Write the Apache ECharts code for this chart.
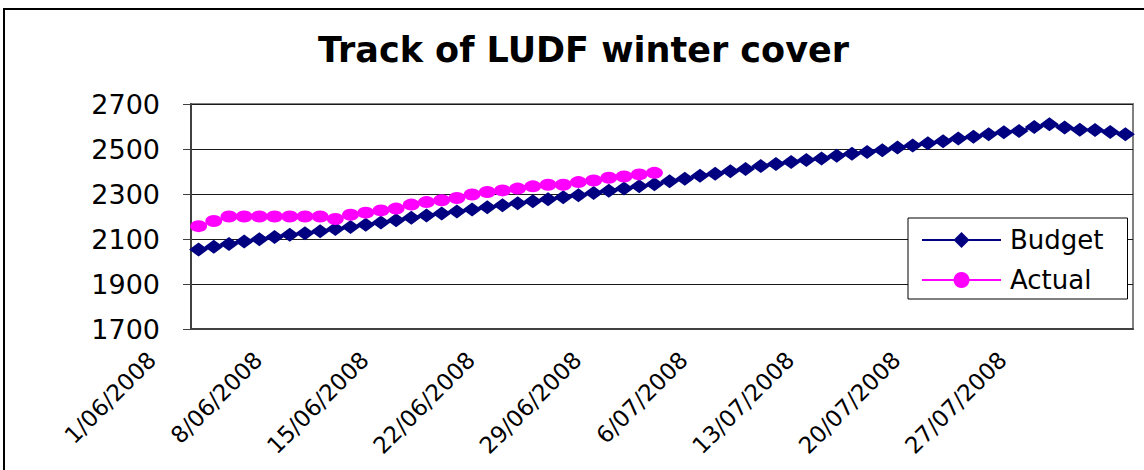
<!DOCTYPE html>
<html>
<head>
<meta charset="utf-8">
<title>Track of LUDF winter cover</title>
<script src="https://cdn.jsdelivr.net/npm/echarts@6/dist/echarts.min.js"></script>
<style>
  html, body { margin: 0; padding: 0; background: #fff; }
  #chart { width: 1144px; height: 470px; }
</style>
</head>
<body>
<div id="chart"></div>
<script>
// days on the x axis (1 June - 1 August 2008)
const dates = [
  '1/06/2008', '2/06/2008', '3/06/2008', '4/06/2008', '5/06/2008', '6/06/2008', '7/06/2008',
  '8/06/2008', '9/06/2008', '10/06/2008', '11/06/2008', '12/06/2008', '13/06/2008', '14/06/2008',
  '15/06/2008', '16/06/2008', '17/06/2008', '18/06/2008', '19/06/2008', '20/06/2008', '21/06/2008',
  '22/06/2008', '23/06/2008', '24/06/2008', '25/06/2008', '26/06/2008', '27/06/2008', '28/06/2008',
  '29/06/2008', '30/06/2008', '1/07/2008', '2/07/2008', '3/07/2008', '4/07/2008', '5/07/2008',
  '6/07/2008', '7/07/2008', '8/07/2008', '9/07/2008', '10/07/2008', '11/07/2008', '12/07/2008',
  '13/07/2008', '14/07/2008', '15/07/2008', '16/07/2008', '17/07/2008', '18/07/2008', '19/07/2008',
  '20/07/2008', '21/07/2008', '22/07/2008', '23/07/2008', '24/07/2008', '25/07/2008', '26/07/2008',
  '27/07/2008', '28/07/2008', '29/07/2008', '30/07/2008', '31/07/2008', '1/08/2008'
]

const budget = [
  2053, 2066, 2078, 2089, 2099, 2109, 2119, 2126, 2134, 2145, 2153, 2163, 2173, 2183, 2194, 2204,
  2213, 2222, 2231, 2241, 2250, 2259, 2268, 2277, 2286, 2295, 2305, 2315, 2325, 2335, 2343,
  2357, 2368, 2381, 2390, 2401, 2411, 2424, 2433, 2442, 2451, 2458, 2470, 2479, 2487, 2495, 2507,
  2516, 2526, 2534, 2547, 2555, 2566, 2575, 2580, 2598, 2610, 2596, 2586, 2584, 2576, 2566
]

const actual = [
  2157, 2180, 2200, 2200, 2200, 2200, 2200, 2200, 2200, 2189, 2208, 2217, 2227, 2235, 2253, 2264,
  2272, 2282, 2298, 2309, 2316, 2324, 2334, 2341, 2341, 2353, 2360, 2372, 2378, 2387, 2394
]

const yMin = 1700
const yMax = 2700
const yStep = 200

const chart = echarts.init(document.getElementById('chart'), null, { renderer: 'svg' })

chart.setOption({
  animation: false,
  backgroundColor: '#fff',
  textStyle: { fontFamily: 'DejaVu Sans', color: '#000' },
  graphic: [{
    type: 'rect',
    shape: { x: 4, y: 9, width: 1150, height: 470 },
    style: { fill: 'none', stroke: '#000', lineWidth: 2 },
    silent: true
  }],
  title: {
    text: 'Track of LUDF winter cover',
    left: 313,
    top: 27,
    textStyle: {
      fontFamily: 'DejaVu Sans',
      fontWeight: 'bold',
      fontSize: 35,
      color: '#000'
    }
  },
  legend: {
    orient: 'vertical',
    left: 908,
    top: 218,
    padding: [9, 24, 6, 13],
    itemWidth: 79,
    itemHeight: 20,
    itemGap: 14,
    backgroundColor: '#fff',
    borderColor: '#000',
    borderWidth: 1,
    borderRadius: 0,
    textStyle: {
      fontFamily: 'DejaVu Sans',
      fontSize: 26,
      color: '#000',
      padding: [0, 0, 0, 4]
    },
    data: ['Budget', 'Actual']
  },
  grid: {
    left: 191,
    right: 11,
    top: 104,
    bottom: 141,
    show: true,
    borderColor: '#808080',
    borderWidth: 2,
    backgroundColor: '#fff'
  },
  xAxis: {
    type: 'category',
    data: dates,
    boundaryGap: true,
    axisLine: { lineStyle: { color: '#404040', width: 2 } },
    axisTick: { interval: 6, length: 7, lineStyle: { color: '#404040', width: 1 } },
    axisLabel: {
      interval: 6,
      rotate: 45,
      margin: 27,
      color: '#000',
      formatter: v => '{d|' + v + '}',
      rich: {
        d: {
          fontFamily: 'DejaVu Sans',
          fontSize: 23,
          color: '#000',
          padding: [0, 33, 66, 0]
        }
      }
    },
    splitLine: { show: false }
  },
  yAxis: {
    type: 'value',
    min: yMin,
    max: yMax,
    interval: yStep,
    axisLine: { show: true, lineStyle: { color: '#404040', width: 2 } },
    axisTick: { show: true, length: 8, lineStyle: { color: '#404040', width: 1 } },
    axisLabel: {
      margin: 31,
      fontFamily: 'DejaVu Sans',
      fontSize: 27,
      color: '#000',
      formatter: v => String(v)
    },
    splitLine: { lineStyle: { color: '#1a1a1a', width: 1 } }
  },
  series: [
    {
      name: 'Budget',
      type: 'line',
      data: budget,
      symbol: 'diamond',
      symbolSize: [19, 14],
      showAllSymbol: true,
      color: '#000080',
      itemStyle: { color: '#000080' },
      lineStyle: { color: '#000080', width: 2 }
    },
    {
      name: 'Actual',
      type: 'line',
      data: actual,
      symbol: 'circle',
      symbolSize: [17, 12],
      showAllSymbol: true,
      color: '#ff00ff',
      itemStyle: { color: '#ff00ff' },
      lineStyle: { color: '#ff00ff', width: 2 }
    }
  ]
})
</script>
</body>
</html>
